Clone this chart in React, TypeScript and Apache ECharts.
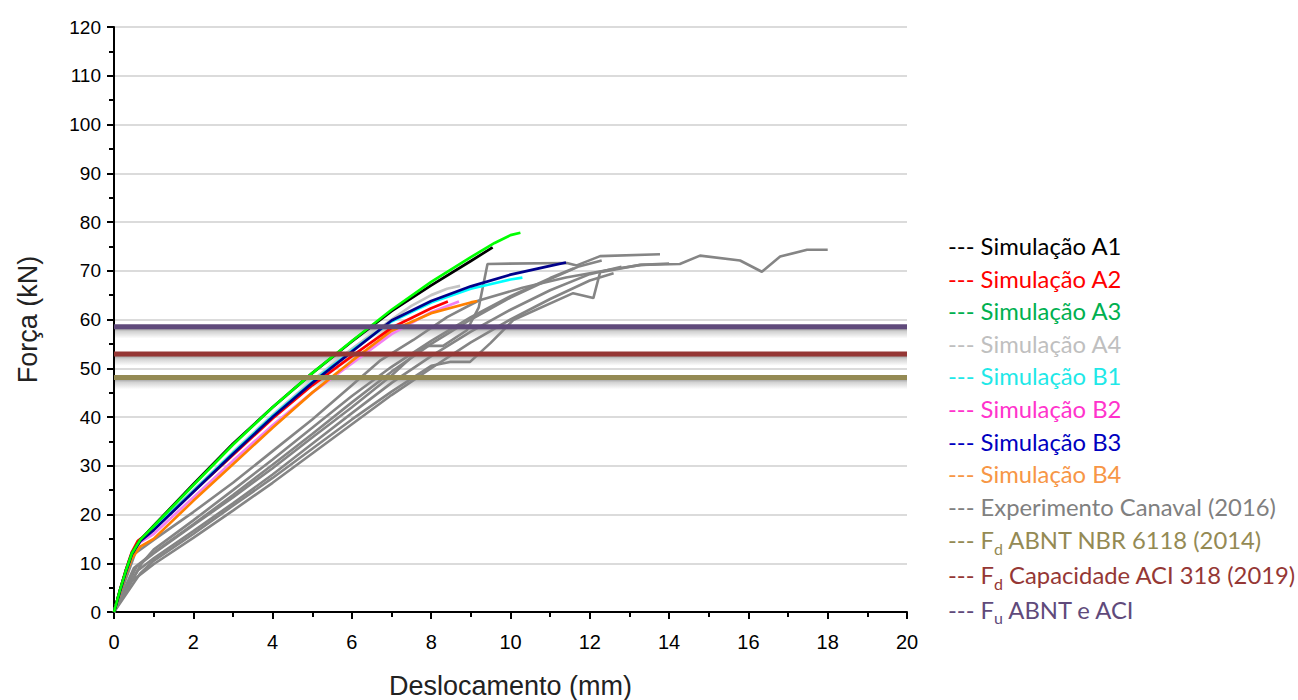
import React, { useEffect, useRef } from 'react';
import * as echarts from 'echarts';

// ---- Simulations (x: displacement mm, y: force kN)
const simA1: number[][] = [[0,0],[0.15,4.5],[0.3,8.5],[0.45,12],[0.66,14.8],[1,17.7],[2,26.2],[3,34.5],[4,42],[5,49],[6,55.5],[7,61.7],[8,67],[9,72],[9.55,74.8]];
const simA2: number[][] = [[0,0],[0.15,4.5],[0.3,8.7],[0.45,12.3],[0.6,14.6],[1,17],[2,24.7],[3,32.2],[4,39.7],[5,46.5],[6,52.5],[7,58.3],[8,62.3],[8.42,63.7]];
const simA3: number[][] = [[0,0],[0.15,4.5],[0.3,8.5],[0.45,12],[0.66,14.8],[1,17.6],[2,26],[3,34.3],[4,42],[5,49],[6,55.6],[7,62],[8,67.7],[9,72.8],[9.6,75.7],[10,77.3],[10.25,77.8]];
const simA4: number[][] = [[0,0],[0.15,4.5],[0.3,8.6],[0.45,12.2],[0.66,14.6],[1,17.2],[2,25],[3,32.8],[4,40.4],[5,47.5],[6,54],[7,60],[7.5,62.8],[8,65],[8.4,66.3],[8.73,66.9]];
const simB1: number[][] = [[0,0],[0.15,4.3],[0.3,8.3],[0.45,12],[0.66,14.6],[1,17],[2,24.8],[3,32.6],[4,40.2],[5,47.2],[6,53.6],[7,59.6],[8,63.5],[9,66.3],[10,68.2],[10.3,68.6]];
const simB2: number[][] = [[0,0],[0.15,4.4],[0.3,8.6],[0.45,12.2],[0.66,14.3],[1,16],[2,23.5],[3,31],[4,38.3],[5,45],[6,51],[7,57],[8,61.5],[8.7,63.7]];
const simB3: number[][] = [[0,0],[0.15,4.2],[0.3,8.2],[0.45,11.8],[0.66,14.5],[1,16.8],[2,24.6],[3,32.4],[4,40],[5,47],[6,53.4],[7,59.8],[8,63.8],[9,66.8],[10,69.2],[11,71],[11.4,71.7]];
const simB4: number[][] = [[0,0],[0.15,3.9],[0.3,7.8],[0.45,11],[0.66,13.4],[1,15],[2,22.8],[3,30.3],[4,37.8],[5,45],[6,51.5],[7,57.7],[8,61.3],[9,63.5],[9.16,63.8]];

// ---- Experiments (Canaval 2016)
const exp1: number[][] = [[0,0],[0.53,12],[1,14.8],[2,20.5],[3,26.5],[4,33],[5,39.5],[6,46.5],[6.7,51.5],[7.55,55.8],[8.4,60.5],[9.2,63.9],[10.3,66.5],[11.4,68.6],[12.5,70.2],[13.3,71.2],[14,71.5]];
const exp2: number[][] = [[0,0],[0.57,9.3],[1,12],[2,17.8],[3,23.5],[4,29.5],[5,35.8],[6,42],[7,48.5],[7.6,53],[7.84,54.6],[8.3,54.6],[8.9,57.8],[9.2,62.5],[9.42,71.4],[11.42,71.6],[11.67,71.1],[12.26,73],[13.77,73.4]];
const exp3: number[][] = [[0,0],[0.66,7.9],[1,10.5],[2,16],[3,21.8],[4,27.5],[5,33.5],[6,39.5],[7,45.2],[8,50.5],[8.47,51.3],[8.98,51.3],[9.5,55.2],[10.07,59.9],[11.58,65.4],[12.09,64.4],[12.26,69.7],[13.27,71.2],[14.27,71.4],[14.78,73.1],[15.79,72.1],[16.34,69.8],[16.8,72.9],[17.48,74.3],[18,74.3]];
const exp4: number[][] = [[0,0],[0.5,9],[1,12.2],[2,18],[3,24],[4,30.2],[5,36.5],[6,43],[7,49.3],[8,55],[9,60],[10,64.5],[11,68.3],[11.7,70.8],[12.3,72.1]];
const exp5: number[][] = [[0,0],[0.6,8.5],[1,11],[2,16.6],[3,22.3],[4,28.2],[5,34.5],[6,40.8],[7,47],[8,52.5],[9,57.5],[10,62],[11,66],[12,69.3],[12.8,70.8]];
const exp6: number[][] = [[0,0],[0.4,6],[1,9.8],[2,15.2],[3,20.8],[4,26.5],[5,32.5],[6,38.5],[7,44.5],[8,50],[9,55.3],[10,60],[11,64.2],[12,68],[12.6,69.5]];
const exp7: number[][] = [[0,0],[0.7,10],[1,12.8],[2,18.8],[3,25],[4,31.3],[5,37.8],[6,44.3],[7,50.3],[8,55.6],[9,60.5],[10,64.8],[11,68.5],[11.6,70.5]];
const experiments = [exp1, exp2, exp3, exp4, exp5, exp6, exp7];

// ---- Design / ultimate loads (kN)
const fdABNT = 48.1;
const fdACI = 52.9;
const fuABNTACI = 58.5;
const xRange = [0, 20];

const EXP_NAME = 'Experimento Canaval (2016)';
const FD_ABNT = 'Fd ABNT NBR 6118 (2014)';
const FD_ACI = 'Fd Capacidade ACI 318 (2019)';
const FU = 'Fu ABNT e ACI';

const legendItems: { name: string; color: string }[] = [
  { name: 'Simulação A1', color: '#000000' },
  { name: 'Simulação A2', color: '#ff0000' },
  { name: 'Simulação A3', color: '#00b050' },
  { name: 'Simulação A4', color: '#bfbfbf' },
  { name: 'Simulação B1', color: '#1fe8e8' },
  { name: 'Simulação B2', color: '#ff33cc' },
  { name: 'Simulação B3', color: '#0000c0' },
  { name: 'Simulação B4', color: '#f79646' },
  { name: EXP_NAME, color: '#808080' },
  { name: FD_ABNT, color: '#948a54' },
  { name: FD_ACI, color: '#953735' },
  { name: FU, color: '#604a7b' },
];

export default function App() {
  const ref = useRef<HTMLDivElement>(null);
  useEffect(() => {
    if (!ref.current) return;
    const chart = echarts.init(ref.current, null, { renderer: 'svg' });
    const font = 'Liberation Sans, Arial, sans-serif';

    const simLine = (name: string, data: number[][], color: string, width = 2.7) => ({
      name, type: 'line', data, symbol: 'none', showSymbol: false, silent: true,
      lineStyle: { color, width }, itemStyle: { color }, smooth: false,
    });
    // horizontal reference line with a soft shadow band underneath (shadow ~2.4 kN tall)
    const hLine = (name: string, v: number, color: string) => ({
      name, type: 'line', symbol: 'none', showSymbol: false, silent: true,
      data: [[xRange[0], v], [xRange[1], v]],
      lineStyle: { color, width: 5 },
      itemStyle: { color },
      markArea: {
        silent: true,
        itemStyle: {
          color: new echarts.graphic.LinearGradient(0, 0, 0, 1, [
            { offset: 0, color: 'rgba(0,0,0,0.5)' },
            { offset: 0.4, color: 'rgba(0,0,0,0.18)' },
            { offset: 1, color: 'rgba(0,0,0,0)' },
          ]),
        },
        data: [[{ yAxis: v, xAxis: xRange[0] }, { yAxis: v - 2.4, xAxis: xRange[1] }]],
      },
    });

    const series: any[] = [];
    experiments.forEach((d) => series.push(simLine(EXP_NAME, d, '#858585', 2.6)));
    series.push(simLine('Simulação A4', simA4, '#c4c4c4'));
    series.push(simLine('Simulação B2', simB2, '#f27ff2'));
    series.push(simLine('Simulação B4', simB4, '#ff8000'));
    series.push(simLine('Simulação A2', simA2, '#ff0000'));
    series.push(simLine('Simulação B1', simB1, '#00ffff'));
    series.push(simLine('Simulação B3', simB3, '#00008b'));
    series.push(simLine('Simulação A1', simA1, '#000000'));
    series.push(simLine('Simulação A3', simA3, '#00ff00'));
    series.push(hLine(FD_ABNT, fdABNT, '#948a54'));
    series.push(hLine(FD_ACI, fdACI, '#953735'));
    series.push(hLine(FU, fuABNTACI, '#604a7b'));

    const subStyle = (color: string) => ({ color, fontSize: 16, lineHeight: 14, padding: [16, 0, 0, 0], fontFamily: 'Lato' });

    chart.setOption({
      animation: false,
      backgroundColor: '#ffffff',
      grid: { left: 114, right: 391, top: 27, bottom: 88, containLabel: false, outerBoundsMode: 'none' },
      xAxis: {
        type: 'value', min: 0, max: 20, interval: 2,
        axisLine: { show: true, onZero: false, lineStyle: { color: '#000', width: 2 } },
        axisTick: { show: true, inside: false, length: 7, lineStyle: { color: '#000', width: 2 } },
        minorTick: { show: true, splitNumber: 2, length: 5, lineStyle: { color: '#000', width: 2 } },
        splitLine: { show: false },
        axisLabel: { fontSize: 20, color: '#000', fontFamily: font, margin: 20 },
        name: 'Deslocamento (mm)', nameLocation: 'middle', nameGap: 60,
        nameTextStyle: { fontSize: 27, color: '#222', fontFamily: font },
      },
      yAxis: {
        type: 'value', min: 0, max: 120, interval: 10,
        axisLine: { show: true, onZero: false, lineStyle: { color: '#000', width: 2 } },
        axisTick: { show: true, inside: false, length: 7, lineStyle: { color: '#000', width: 2 } },
        minorTick: { show: true, splitNumber: 2, length: 5, lineStyle: { color: '#000', width: 2 } },
        splitLine: { show: true, lineStyle: { color: '#cfcfcf', width: 1.5 } },
        axisLabel: { fontSize: 19, color: '#000', fontFamily: font, margin: 13 },
        name: 'Força (kN)', nameLocation: 'middle', nameGap: 73,
        nameTextStyle: { fontSize: 27, color: '#222', fontFamily: font },
      },
      legend: {
        orient: 'vertical', left: 943, top: 231, padding: 0,
        itemGap: 2.6, itemWidth: 0, itemHeight: 14, icon: 'none', selectedMode: false,
        textStyle: {
          fontFamily: 'Lato', fontSize: 23.8, lineHeight: 30,
          rich: {
            sOl: subStyle('#948a54'),
            sRd: subStyle('#953735'),
            sPu: subStyle('#604a7b'),
          },
        },
        formatter: (name: string) => {
          if (name === FD_ABNT) return '--- F{sOl|d} ABNT NBR 6118 (2014)';
          if (name === FD_ACI) return '--- F{sRd|d} Capacidade ACI 318 (2019)';
          if (name === FU) return '--- F{sPu|u} ABNT e ACI';
          return '--- ' + name;
        },
        data: legendItems.map((it) => ({ name: it.name, textStyle: { color: it.color } })),
      },
      series,
    });
    return () => chart.dispose();
  }, []);
  return <div ref={ref} style={{ position: 'fixed', left: 0, top: 0, width: 1298, height: 700 }} />;
}
